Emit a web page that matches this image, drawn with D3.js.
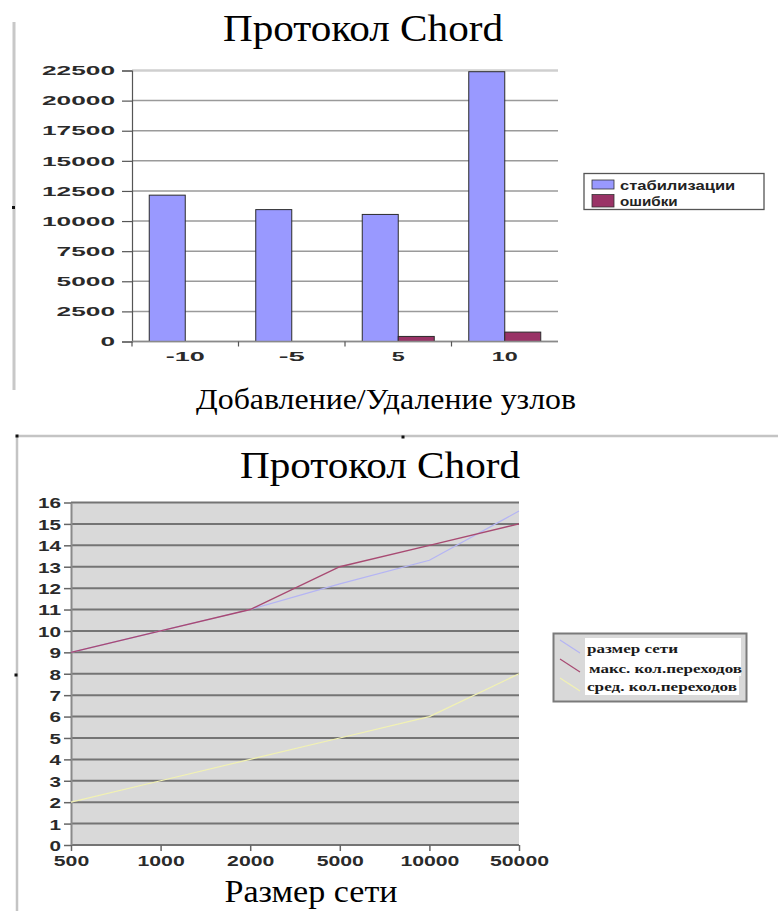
<!DOCTYPE html>
<html>
<head>
<meta charset="utf-8">
<script src="https://cdn.jsdelivr.net/npm/d3@7/dist/d3.min.js"></script>
<style>
  html, body { margin: 0; padding: 0; background: #fff; }
  svg { display: block; }
</style>
</head>
<body>
<svg id="page" width="778" height="911"></svg>
<script>
// ---- Chart 1: bar chart data ----
const barCategories = ["-10", "-5", "5", "10"];
const stabilization = [12150, 10950, 10550, 22400];
const errors = [0, 0, 420, 780];
const barSeriesNames = ["стабилизации", "ошибки"];
const barYTicks = [0, 2500, 5000, 7500, 10000, 12500, 15000, 17500, 20000, 22500];

// ---- Chart 2: line chart data ----
const netSizes = ["500", "1000", "2000", "5000", "10000", "50000"];
const netSizeSeries = [9, 10, 11, 12.2, 13.3, 15.6];
const maxHops = [9, 10, 11, 13, 14, 15];
const avgHops = [2, 3, 4, 5, 6, 8];
const lineSeriesNames = ["размер сети", "макс. кол.переходов", "сред. кол.переходов"];
const lineYTicks = [0, 1, 2, 3, 4, 5, 6, 7, 8, 9, 10, 11, 12, 13, 14, 15, 16];

const svg = d3.select("#page");
const sans = "'Liberation Sans', Arial, sans-serif";
const serif = "'Liberation Serif', 'Times New Roman', serif";

// stretch a text element horizontally to a given width
function stretch(sel, perChar) {
  sel.each(function () {
    const t = d3.select(this);
    t.attr("textLength", t.text().length * perChar).attr("lengthAdjust", "spacingAndGlyphs");
  });
}

// ================= Chart 1 =================
const c1 = svg.append("g");
// frame edge on the left
c1.append("line").attr("x1", 14).attr("x2", 14).attr("y1", 22).attr("y2", 390)
  .attr("stroke", "#c8c8c8").attr("stroke-width", 3);
c1.append("rect").attr("x", 12).attr("y", 206).attr("width", 3).attr("height", 3).attr("fill", "#111");

c1.append("text").attr("x", 363).attr("y", 41).attr("text-anchor", "middle")
  .attr("font-family", serif).attr("font-size", 37)
  .attr("textLength", 280).attr("lengthAdjust", "spacingAndGlyphs")
  .text("Протокол Chord");

const y1 = d3.scaleLinear().domain([0, 22500]).range([341.5, 70.5]);
const x1 = d3.scaleBand().domain(barCategories).range([132, 558]).paddingInner(0).paddingOuter(0);
const bw = x1.bandwidth();
const xs1 = d3.scaleBand().domain(barSeriesNames).range([17.25, bw - 17.25]);

// gridlines
c1.append("g").selectAll("line").data(barYTicks).join("line")
  .attr("x1", 132).attr("x2", 558)
  .attr("y1", d => y1(d)).attr("y2", d => y1(d))
  .attr("stroke", d => d === 22500 ? "#cfcfcf" : "#9a9a9a")
  .attr("stroke-width", d => d === 22500 ? 2.5 : 1.5);

// y axis
const yAxis1 = c1.append("g").attr("transform", "translate(132,0)")
  .call(d3.axisLeft(y1).tickValues(barYTicks).tickSize(10).tickPadding(7).tickFormat(d3.format("d")));
yAxis1.select(".domain").attr("stroke", "#555").attr("stroke-width", 1.2);
yAxis1.selectAll(".tick line").attr("stroke", "#555").attr("stroke-width", 1.2);
yAxis1.selectAll(".tick text").attr("font-family", sans).attr("font-size", 12).attr("font-weight", "bold")
  .attr("fill", "#2a2a2a").attr("dy", "0.35em").call(stretch, 14.6);

// bars
const barRows = barCategories.map((c, i) => ({ c, vals: [stabilization[i], errors[i]] }));
const barColors = ["#9999ff", "#993366"];
const gBars = c1.append("g");
barRows.forEach(row => {
  row.vals.forEach((v, j) => {
    if (v <= 0) return;
    gBars.append("rect")
      .attr("x", x1(row.c) + xs1(barSeriesNames[j]))
      .attr("y", y1(v))
      .attr("width", xs1.bandwidth())
      .attr("height", y1(0) - y1(v))
      .attr("fill", barColors[j])
      .attr("stroke", "#2b2b2b").attr("stroke-width", 1);
  });
});

// x axis
c1.append("line").attr("x1", 132).attr("x2", 558).attr("y1", y1(0)).attr("y2", y1(0))
  .attr("stroke", "#8a8a8a").attr("stroke-width", 1.5);
c1.append("g").selectAll("line").data(barCategories).join("line")
  .attr("x1", d => x1(d)).attr("x2", d => x1(d))
  .attr("y1", y1(0)).attr("y2", y1(0) + 5)
  .attr("stroke", "#555").attr("stroke-width", 1.2);
c1.append("g").selectAll("text").data(barCategories).join("text")
  .attr("x", d => x1(d) + bw / 2).attr("y", 361).attr("text-anchor", "middle")
  .attr("font-family", sans).attr("font-size", 12).attr("font-weight", "bold").attr("fill", "#2a2a2a")
  .text(d => d).call(stretch, 13);

c1.append("text").attr("x", 386).attr("y", 409).attr("text-anchor", "middle")
  .attr("font-family", serif).attr("font-size", 30)
  .attr("textLength", 380).attr("lengthAdjust", "spacingAndGlyphs")
  .text("Добавление/Удаление узлов");

// legend
const lg1 = c1.append("g");
lg1.append("rect").attr("x", 584).attr("y", 173.5).attr("width", 180).attr("height", 36)
  .attr("fill", "#fff").attr("stroke", "#555").attr("stroke-width", 1.3);
barSeriesNames.forEach((name, i) => {
  lg1.append("rect").attr("x", 592).attr("y", 180 + i * 14.5).attr("width", 22).attr("height", 9 + i * 3.5)
    .attr("fill", barColors[i]).attr("stroke", "#333").attr("stroke-width", 0.8);
  lg1.append("text").attr("x", 620).attr("y", 190 + i * 15.5)
    .attr("font-family", sans).attr("font-size", 13).attr("font-weight", "bold").attr("fill", "#222")
    .attr("textLength", name.length * 9.6).attr("lengthAdjust", "spacingAndGlyphs")
    .text(name);
});

// ================= Chart 2 =================
const c2 = svg.append("g");
c2.append("line").attr("x1", 17).attr("x2", 778).attr("y1", 436).attr("y2", 436)
  .attr("stroke", "#c4c4c4").attr("stroke-width", 2.5);
c2.append("line").attr("x1", 17).attr("x2", 17).attr("y1", 436).attr("y2", 911)
  .attr("stroke", "#c4c4c4").attr("stroke-width", 2.5);
[[17, 436], [403, 437], [16, 675]].forEach(([x, y]) =>
  c2.append("rect").attr("x", x - 1.5).attr("y", y - 1.5).attr("width", 3).attr("height", 3).attr("fill", "#111"));

c2.append("text").attr("x", 380).attr("y", 478).attr("text-anchor", "middle")
  .attr("font-family", serif).attr("font-size", 37)
  .attr("textLength", 280).attr("lengthAdjust", "spacingAndGlyphs")
  .text("Протокол Chord");

const y2 = d3.scaleLinear().domain([0, 16]).range([845, 502.5]);
const x2 = d3.scalePoint().domain(netSizes).range([71, 519]);

c2.append("rect").attr("x", 71).attr("y", y2(16)).attr("width", 519 - 71).attr("height", y2(0) - y2(16))
  .attr("fill", "#d9d9d9");

c2.append("g").selectAll("line").data(lineYTicks).join("line")
  .attr("x1", 71).attr("x2", 519)
  .attr("y1", d => y2(d)).attr("y2", d => y2(d))
  .attr("stroke", "#747474").attr("stroke-width", 2);

const yAxis2 = c2.append("g").attr("transform", "translate(71,0)")
  .call(d3.axisLeft(y2).tickValues(lineYTicks).tickSize(7).tickPadding(3).tickSizeOuter(0));
yAxis2.select(".domain").attr("stroke", "#8a8a8a").attr("stroke-width", 2);
yAxis2.selectAll(".tick line").attr("stroke", "#666").attr("stroke-width", 1.5);
yAxis2.selectAll(".tick text").attr("font-family", sans).attr("font-size", 15).attr("font-weight", "bold")
  .attr("fill", "#2a2a2a").attr("dy", "0.36em").call(stretch, 11.5);

const xAxis2 = c2.append("g").attr("transform", `translate(0,${y2(0)})`)
  .call(d3.axisBottom(x2).tickSize(6).tickPadding(4).tickSizeOuter(0));
xAxis2.select(".domain").remove();
xAxis2.selectAll(".tick line").attr("stroke", "#666").attr("stroke-width", 1.5);
xAxis2.selectAll(".tick text").attr("font-family", sans).attr("font-size", 15).attr("font-weight", "bold")
  .attr("fill", "#2a2a2a").call(stretch, 11.8);

const lineColors = ["#b4b4f4", "#a84a72", "#f2f2b2"];
const lineData = [netSizeSeries, maxHops, avgHops];
const lineGen = d3.line().x((d, i) => x2(netSizes[i])).y(d => y2(d));
c2.append("g").selectAll("path").data(lineData).join("path")
  .attr("d", d => lineGen(d))
  .attr("fill", "none")
  .attr("stroke", (d, i) => lineColors[i])
  .attr("stroke-width", (d, i) => i === 1 ? 1.4 : 1.2);

c2.append("text").attr("x", 311).attr("y", 902).attr("text-anchor", "middle")
  .attr("font-family", serif).attr("font-size", 31)
  .attr("textLength", 173).attr("lengthAdjust", "spacingAndGlyphs")
  .text("Размер сети");

// legend
const lg2 = c2.append("g");
lg2.append("rect").attr("x", 553.5).attr("y", 633.5).attr("width", 193).attr("height", 68)
  .attr("fill", "#d9d9d9").attr("stroke", "#7a7a7a").attr("stroke-width", 2);
const rowTop = [638, 657, 676];
const rowBase = [653, 672.5, 690.5];
const textW = [91, 153, 150];
lineSeriesNames.forEach((name, i) => {
  lg2.append("rect").attr("x", 585).attr("y", rowTop[i]).attr("width", i === 2 ? 154 : 156).attr("height", 19)
    .attr("fill", "#fff");
  lg2.append("line").attr("x1", 560).attr("y1", rowTop[i] + 2).attr("x2", 580).attr("y2", rowTop[i] + 15)
    .attr("stroke", lineColors[i]).attr("stroke-width", 1.2);
  lg2.append("text").attr("x", i === 1 ? 589 : 587).attr("y", rowBase[i])
    .attr("font-family", serif).attr("font-size", 13).attr("font-weight", "bold").attr("fill", "#1a1a1a")
    .attr("textLength", textW[i]).attr("lengthAdjust", "spacingAndGlyphs")
    .text(name);
});
</script>
</body>
</html>
